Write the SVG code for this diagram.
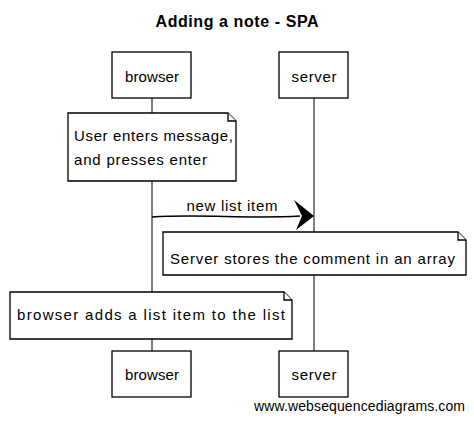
<svg xmlns="http://www.w3.org/2000/svg" width="474" height="421" viewBox="0 0 474 421">
<style>
.box{fill:#fff;stroke:#000;stroke-width:1.3}
.life{stroke:#000;stroke-width:1;fill:none}
.t{font-family:"Liberation Sans",Arial,sans-serif;font-size:15px;fill:#000}
.title{font-family:"Liberation Sans",Arial,sans-serif;font-size:16px;font-weight:bold;fill:#000}
.wm{font-family:"Liberation Sans",Arial,sans-serif;font-size:14px;fill:#000}
</style>
<rect width="474" height="421" fill="#fff"/>
<text class="title" x="237" y="27" text-anchor="middle" textLength="163" lengthAdjust="spacing">Adding a note - SPA</text>
<g id="connectors">
<line class="life" x1="152" y1="98" x2="152" y2="113"/>
<line class="life" x1="152" y1="181" x2="152" y2="292"/>
<line class="life" x1="152" y1="339" x2="152" y2="351"/>
<line class="life" x1="314" y1="98" x2="314" y2="232"/>
<line class="life" x1="314" y1="275" x2="314" y2="351"/>
<path d="M152,217 C200,214 250,219 300,216" stroke="#000" stroke-width="1.5" fill="none"/>
<path d="M294,200 L314,216 L296,230 L302,216 Z" fill="#000"/>
<text class="t" x="232" y="211" text-anchor="middle" textLength="91" lengthAdjust="spacing">new list item</text>
</g>
<g id="browser-top">
<rect class="box" x="112" y="52" width="79" height="46"/>
<text class="t" x="152" y="82" text-anchor="middle" textLength="54" lengthAdjust="spacing">browser</text>
</g>
<g id="server-top">
<rect class="box" x="279" y="52" width="69" height="46"/>
<text class="t" x="314" y="82" text-anchor="middle" textLength="45" lengthAdjust="spacing">server</text>
</g>
<g id="note1">
<path class="box" d="M68,113 L228,113 L236,121 L236,181 L68,181 Z"/>
<path class="box" d="M228,113 L228,121 L236,121"/>
<text class="t" x="74" y="141" textLength="159" lengthAdjust="spacing">User enters message,</text>
<text class="t" x="74" y="165" textLength="133" lengthAdjust="spacing">and presses enter</text>
</g>
<g id="note2">
<path class="box" d="M163,232 L458,232 L466,240 L466,275 L163,275 Z"/>
<path class="box" d="M458,232 L458,240 L466,240"/>
<text class="t" x="170" y="264" textLength="285" lengthAdjust="spacing">Server stores the comment in an array</text>
</g>
<g id="note3">
<path class="box" d="M10,292 L284,292 L292,300 L292,339 L10,339 Z"/>
<path class="box" d="M284,292 L284,300 L292,300"/>
<text class="t" x="17" y="320" textLength="268" lengthAdjust="spacing">browser adds a list item to the list</text>
</g>
<g id="browser-bottom">
<rect class="box" x="112" y="351" width="79" height="46"/>
<text class="t" x="152" y="380" text-anchor="middle" textLength="54" lengthAdjust="spacing">browser</text>
</g>
<g id="server-bottom">
<rect class="box" x="279" y="351" width="69" height="46"/>
<text class="t" x="314" y="380" text-anchor="middle" textLength="45" lengthAdjust="spacing">server</text>
</g>
<text class="wm" x="254" y="411" textLength="211" lengthAdjust="spacing">www.websequencediagrams.com</text>
</svg>
